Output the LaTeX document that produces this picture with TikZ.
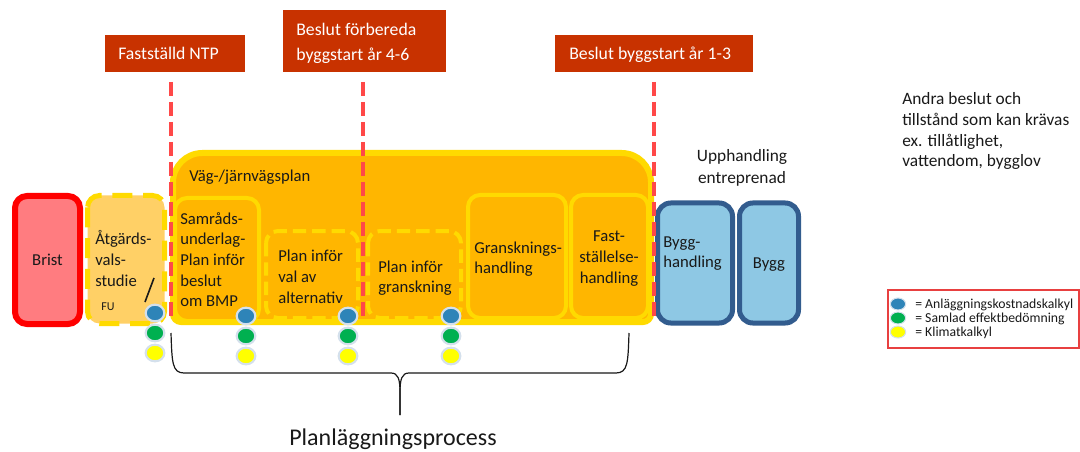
\documentclass[tikz,border=0pt]{standalone}
\usepackage{fontspec}
\setmainfont{Carlito}
\usetikzlibrary{shapes.geometric}

\definecolor{bristfill}{RGB}{255,124,128}
\definecolor{bristline}{RGB}{255,0,0}
\definecolor{avsfill}{RGB}{255,208,102}
\definecolor{planfill}{RGB}{255,182,0}
\definecolor{planline}{RGB}{255,218,0}
\definecolor{byggfill}{RGB}{142,200,228}
\definecolor{byggline}{RGB}{50,92,142}
\definecolor{beslut}{RGB}{200,50,0}
\definecolor{milestone}{RGB}{255,72,72}
\definecolor{kalkblue}{RGB}{46,132,184}
\definecolor{kalkgreen}{RGB}{0,176,80}
\definecolor{kalkyellow}{RGB}{255,255,0}
\definecolor{halo}{RGB}{212,224,236}
\definecolor{legendline}{RGB}{232,64,64}
\definecolor{ink}{RGB}{25,25,25}

\begin{document}
\begin{tikzpicture}[x=0.75pt,y=-0.75pt,
  % multi-line nodes are placed by the baseline of their last line
  boxtext/.style={font=\fontsize{12.5}{15.5}\selectfont, align=left, inner sep=0pt, anchor=base west, text=ink},
  ctrtext/.style={font=\fontsize{12.5}{15.5}\selectfont, align=center, inner sep=0pt, anchor=base, text=ink},
  sidetext/.style={font=\fontsize{13}{15.5}\selectfont, align=left, inner sep=0pt, anchor=base west, text=ink},
  labeltext/.style={font=\fontsize{13.3}{18.5}\selectfont, align=left, inner sep=0pt, anchor=base west, text=white},
  legtext/.style={font=\fontsize{10.3}{10.5}\selectfont, inner sep=0pt, anchor=base west, text=ink},
  solidin/.style={draw=planline, line width=3pt, fill=planfill, rounded corners=9pt},
  dashin/.style={draw=planline, line width=3pt, fill=planfill, rounded corners=9pt, dash pattern=on 10pt off 4.5pt},
  byggbox/.style={draw=byggline, line width=3.75pt, fill=byggfill, rounded corners=10pt},
  beslutbox/.style={fill=beslut},
  milestoneline/.style={draw=milestone, line width=3pt, dash pattern=on 10.5pt off 4.5pt},
  kalk/.style={ellipse, minimum width=14pt, minimum height=12.5pt, inner sep=0pt, draw=halo, line width=1.6pt},
  legdot/.style={ellipse, minimum width=11.5pt, minimum height=9pt, inner sep=0pt, draw=halo, line width=0.8pt},
]
\useasboundingbox (0,0) rectangle (1080,452);

% --- Brist
\draw[line width=4.5pt, draw=bristline, fill=bristfill, rounded corners=9pt] (15,196) rectangle (80,324);
\node[ctrtext, anchor=center] (brist) at (47.5,260) {Brist};

% --- Åtgärdsvalsstudie
\draw[line width=3.75pt, draw=planline, fill=avsfill, rounded corners=9pt, dash pattern=on 15pt off 8pt] (87.5,195.5) rectangle (164.5,323.5);
\node[boxtext] (avs) at (95,286.3) {Åtgärds-\\vals-\\studie};
\node[font=\fontsize{9}{10}\selectfont, inner sep=0pt, anchor=base west, text=ink] (fu) at (101,310) {FU};
\coordinate (slashtop) at (154,278);
\coordinate (slashbot) at (145,302);
\draw[ink, line width=1.2pt] (slashtop) -- (slashbot);

% --- Väg-/järnvägsplan
\path[draw=planline, fill=planfill, line width=4.5pt]
  (173,250) [rounded corners=22pt] -- (173,153) -- (651,153) -- (651,250)
  [rounded corners=6pt] -- (651,322) -- (173,322) -- cycle;
\node[boxtext] (vjp) at (189,182) {Väg-/järnvägsplan};

\draw[solidin] (175,198) rectangle (259,321);
\node[boxtext] (samrad) at (180,306.7) {Samråds-\\underlag-\\Plan inför\\beslut\\om BMP};

\draw[dashin] (266,231) rectangle (358,318);
\node[boxtext] (valalt) at (278,303.3) {Plan inför\\val av\\alternativ};

\draw[dashin] (368,231) rectangle (461,318);
\node[boxtext] (pigransk) at (378,292.7) {Plan inför\\granskning};

\draw[solidin] (468,195) rectangle (566,318);
\node[boxtext] (gransk) at (474,273.7) {Gransknings-\\handling};

\draw[solidin] (571,195) rectangle (648,318);
\node[ctrtext] (fastst) at (609,283.3) {Fast-\\ställelse-\\handling};

% --- Upphandling / bygg
\node[font=\fontsize{13}{17}\selectfont, align=center, inner sep=0pt, anchor=base, text=ink] (upph) at (742,183.7) {Upphandling\\entreprenad};
\draw[byggbox] (657.5,203) rectangle (732.5,323);
\node[boxtext] (bygghandl) at (663,267.7) {Bygg-\\handling};
\draw[byggbox] (739.5,203) rectangle (798.5,323);
\node[ctrtext] (bygg) at (769,268) {Bygg};

% --- Beslut
\fill[beslutbox] (105,35) rectangle (245,72);
\node[labeltext] (ntp) at (118,60) {Fastställd NTP};
\fill[beslutbox] (283,10) rectangle (446,72);
\node[labeltext] (forb) at (296,60.2) {Beslut förbereda\\byggstart år 4-6};
\fill[beslutbox] (555,35) rectangle (753,72);
\node[labeltext] (bygg13) at (569,60) {Beslut byggstart år 1-3};

\coordinate (m1t) at (171,82);  \coordinate (m1b) at (171,318);
\coordinate (m2t) at (363,82);  \coordinate (m2b) at (363,318);
\coordinate (m3t) at (654,82);  \coordinate (m3b) at (654,318);
\draw[milestoneline] (m1t) -- (m1b);
\draw[milestoneline] (m2t) -- (m2b);
\draw[milestoneline] (m3t) -- (m3b);

% --- Kalkyler
\node[kalk, fill=kalkblue]   (k1a) at (155,313) {};
\node[kalk, fill=kalkgreen]  (k1b) at (155,333) {};
\node[kalk, fill=kalkyellow] (k1c) at (155,353) {};
\foreach \c/\x in {2/246,3/348,4/451}{
  \node[kalk, fill=kalkblue]   (k\c a) at (\x,316) {};
  \node[kalk, fill=kalkgreen]  (k\c b) at (\x,336) {};
  \node[kalk, fill=kalkyellow] (k\c c) at (\x,356) {};
}

% --- Planläggningsprocess brace
\coordinate (bl) at (171,333);
\coordinate (br) at (629,333);
\coordinate (btip) at (400,415);
\draw[ink, line width=0.9pt]
  (bl) .. controls (172,362) and (172,373) .. (184,373) -- (391,373)
  .. controls (398,373) and (400,379) .. (400,392) -- (btip);
\draw[ink, line width=0.9pt]
  (br) .. controls (628,362) and (628,373) .. (616,373) -- (409,373)
  .. controls (402,373) and (400,379) .. (400,392) -- (btip);
\node[font=\fontsize{18}{20}\selectfont, inner sep=0pt, anchor=base, text=ink] (process) at (393,445) {Planläggningsprocess};

% --- Andra beslut
\node[sidetext] (andra) at (902,167) {Andra beslut och\\tillstånd som kan krävas\\ex. tillåtlighet,\\vattendom, bygglov};

% --- Legend
\draw[legendline, line width=1.1pt] (888,290) rectangle (1079,348);
\node[legdot, fill=kalkblue]   (l1) at (898,304) {};
\node[legdot, fill=kalkgreen]  (l2) at (898,318) {};
\node[legdot, fill=kalkyellow] (l3) at (898,332) {};
\node[legtext] (lt1) at (915,308) {= Anläggningskostnadskalkyl};
\node[legtext] (lt2) at (915,322) {= Samlad effektbedömning};
\node[legtext] (lt3) at (915,336) {= Klimatkalkyl};
\end{tikzpicture}
\end{document}
